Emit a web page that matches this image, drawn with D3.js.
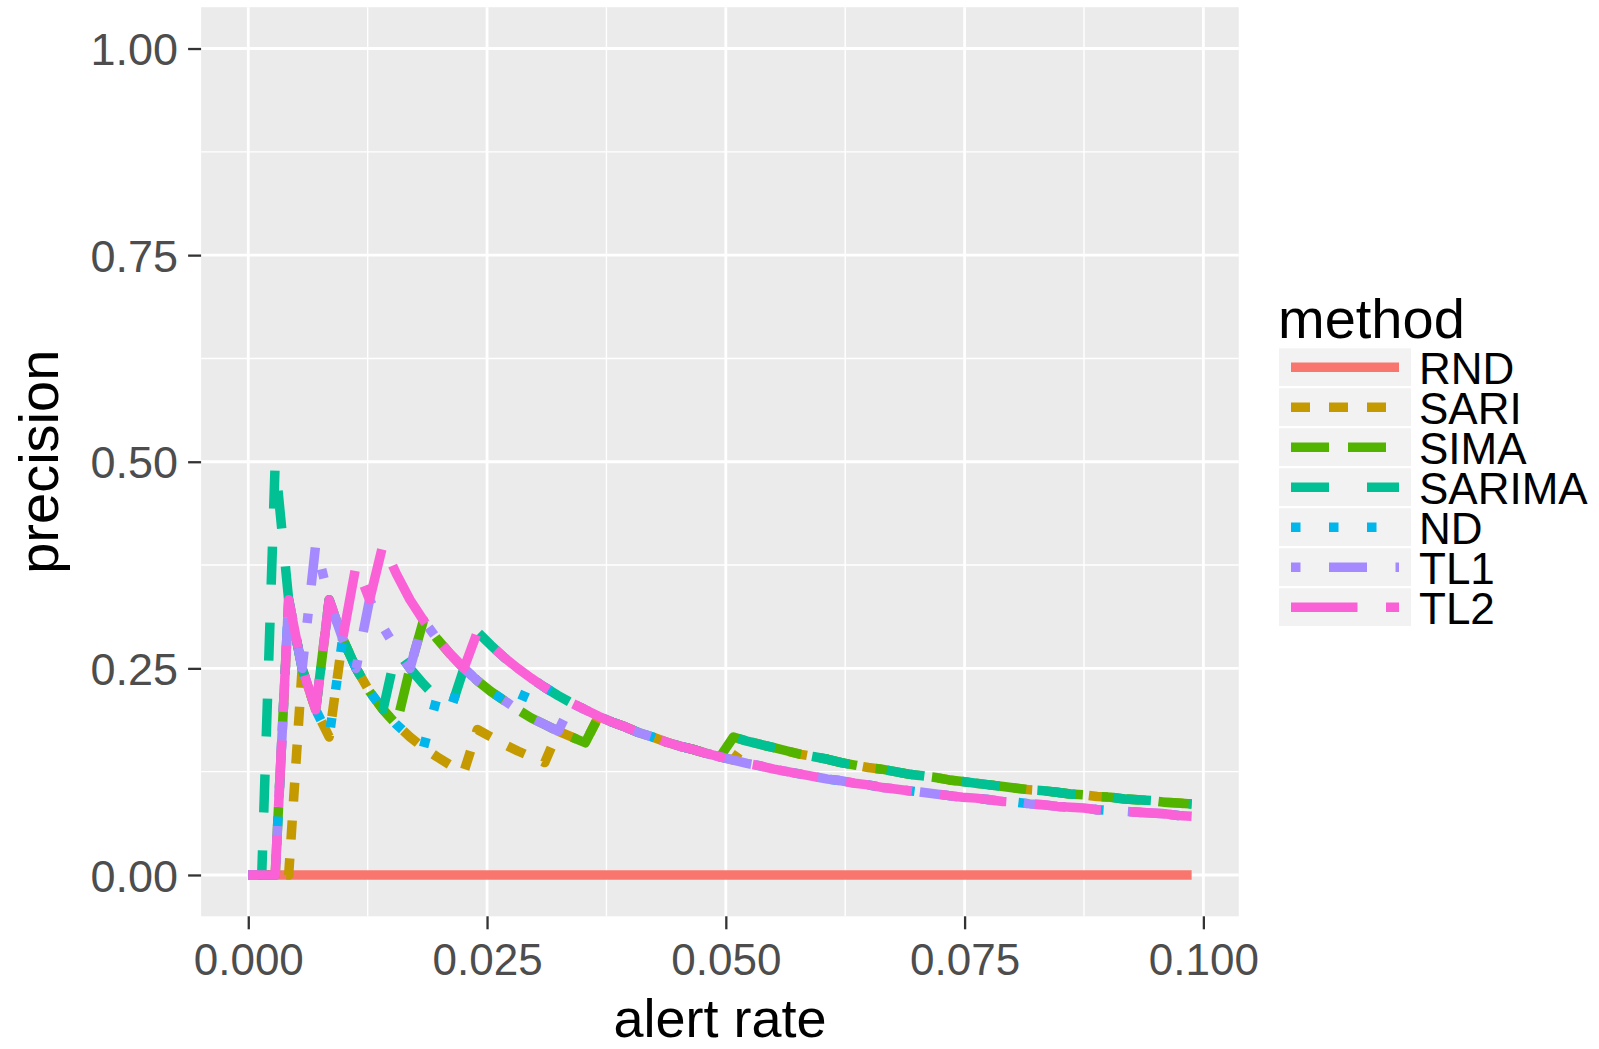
<!DOCTYPE html>
<html>
<head>
<meta charset="utf-8">
<script src="https://cdn.jsdelivr.net/npm/d3@7"></script>
<style>
  html, body { margin: 0; padding: 0; background: #fff; }
  svg { display: block; font-family: "Liberation Sans", Arial, sans-serif; }
</style>
</head>
<body>
<svg id="chart" width="1599" height="1049"></svg>
<script>
// Alert rate at each cut-off (top-n alerts), n = 0..70
const alertRate = [
  0, 0.00141, 0.00282, 0.00423, 0.00564, 0.00706, 0.00847, 0.00988, 0.01129, 0.01270,
  0.01411, 0.01552, 0.01693, 0.01834, 0.01975, 0.02117, 0.02258, 0.02399, 0.02540, 0.02681,
  0.02822, 0.02963, 0.03104, 0.03245, 0.03386, 0.03528, 0.03669, 0.03810, 0.03951, 0.04092,
  0.04233, 0.04374, 0.04515, 0.04656, 0.04797, 0.04939, 0.05080, 0.05221, 0.05362, 0.05503,
  0.05644, 0.05785, 0.05926, 0.06067, 0.06208, 0.06350, 0.06491, 0.06632, 0.06773, 0.06914,
  0.07055, 0.07196, 0.07337, 0.07478, 0.07619, 0.07761, 0.07902, 0.08043, 0.08184, 0.08325,
  0.08466, 0.08607, 0.08748, 0.08889, 0.09030, 0.09172, 0.09313, 0.09454, 0.09595, 0.09736,
  0.09877
];

// Precision of each method at the same cut-offs
const precRND = [
  0, 0, 0, 0, 0, 0, 0, 0, 0, 0,
  0, 0, 0, 0, 0, 0, 0, 0, 0, 0,
  0, 0, 0, 0, 0, 0, 0, 0, 0, 0,
  0, 0, 0, 0, 0, 0, 0, 0, 0, 0,
  0, 0, 0, 0, 0, 0, 0, 0, 0, 0,
  0, 0, 0, 0, 0, 0, 0, 0, 0, 0,
  0, 0, 0, 0, 0, 0, 0, 0, 0, 0,
  0
];
const precSARI = [
  0, 0, 0, 0, 0.250, 0.200, 0.167, 0.286, 0.250, 0.222,
  0.200, 0.182, 0.167, 0.154, 0.143, 0.133, 0.125, 0.176, 0.167, 0.158,
  0.150, 0.143, 0.136, 0.174, 0.167, 0.160, 0.192, 0.185, 0.179, 0.172,
  0.167, 0.161, 0.156, 0.152, 0.147, 0.143, 0.139, 0.162, 0.158, 0.154,
  0.150, 0.146, 0.143, 0.140, 0.136, 0.133, 0.130, 0.128, 0.125, 0.122,
  0.120, 0.118, 0.115, 0.113, 0.111, 0.109, 0.107, 0.105, 0.103, 0.102,
  0.100, 0.098, 0.097, 0.095, 0.094, 0.092, 0.091, 0.090, 0.088, 0.087,
  0.086
];
const precSIMA = [
  0, 0, 0, 0.333, 0.250, 0.200, 0.333, 0.286, 0.250, 0.222,
  0.200, 0.182, 0.250, 0.308, 0.286, 0.267, 0.250, 0.235, 0.222, 0.211,
  0.200, 0.190, 0.182, 0.174, 0.167, 0.160, 0.192, 0.185, 0.179, 0.172,
  0.167, 0.161, 0.156, 0.152, 0.147, 0.143, 0.167, 0.162, 0.158, 0.154,
  0.150, 0.146, 0.143, 0.140, 0.136, 0.133, 0.130, 0.128, 0.125, 0.122,
  0.120, 0.118, 0.115, 0.113, 0.111, 0.109, 0.107, 0.105, 0.103, 0.102,
  0.100, 0.098, 0.097, 0.095, 0.094, 0.092, 0.091, 0.090, 0.088, 0.087,
  0.086
];
const precSARIMA = [
  0, 0, 0.500, 0.333, 0.250, 0.200, 0.333, 0.286, 0.250, 0.222,
  0.200, 0.273, 0.250, 0.231, 0.214, 0.200, 0.250, 0.294, 0.278, 0.263,
  0.250, 0.238, 0.227, 0.217, 0.208, 0.200, 0.192, 0.185, 0.179, 0.172,
  0.167, 0.161, 0.156, 0.152, 0.147, 0.143, 0.167, 0.162, 0.158, 0.154,
  0.150, 0.146, 0.143, 0.140, 0.136, 0.133, 0.130, 0.128, 0.125, 0.122,
  0.120, 0.118, 0.115, 0.113, 0.111, 0.109, 0.107, 0.105, 0.103, 0.102,
  0.100, 0.098, 0.097, 0.095, 0.094, 0.092, 0.091, 0.090, 0.088, 0.087,
  0.086
];
const precND = [
  0, 0, 0, 0.333, 0.250, 0.200, 0.167, 0.286, 0.250, 0.222,
  0.200, 0.182, 0.167, 0.154, 0.214, 0.200, 0.250, 0.235, 0.222, 0.211,
  0.200, 0.238, 0.227, 0.217, 0.208, 0.200, 0.192, 0.185, 0.179, 0.172,
  0.167, 0.161, 0.156, 0.152, 0.147, 0.143, 0.139, 0.135, 0.132, 0.128,
  0.125, 0.122, 0.119, 0.116, 0.114, 0.111, 0.109, 0.106, 0.104, 0.102,
  0.100, 0.098, 0.096, 0.094, 0.093, 0.091, 0.089, 0.088, 0.086, 0.085,
  0.083, 0.082, 0.081, 0.079, 0.078, 0.077, 0.076, 0.075, 0.074, 0.072,
  0.071
];
const precTL1 = [
  0, 0, 0, 0.333, 0.250, 0.400, 0.333, 0.286, 0.250, 0.333,
  0.300, 0.273, 0.250, 0.308, 0.286, 0.267, 0.250, 0.235, 0.222, 0.211,
  0.200, 0.190, 0.182, 0.174, 0.208, 0.200, 0.192, 0.185, 0.179, 0.172,
  0.167, 0.161, 0.156, 0.152, 0.147, 0.143, 0.139, 0.135, 0.132, 0.128,
  0.125, 0.122, 0.119, 0.116, 0.114, 0.111, 0.109, 0.106, 0.104, 0.102,
  0.100, 0.098, 0.096, 0.094, 0.093, 0.091, 0.089, 0.088, 0.086, 0.085,
  0.083, 0.082, 0.081, 0.079, 0.078, 0.077, 0.076, 0.075, 0.074, 0.072,
  0.071
];
const precTL2 = [
  0, 0, 0, 0.333, 0.250, 0.200, 0.333, 0.286, 0.375, 0.333,
  0.400, 0.364, 0.333, 0.308, 0.286, 0.267, 0.250, 0.294, 0.278, 0.263,
  0.250, 0.238, 0.227, 0.217, 0.208, 0.200, 0.192, 0.185, 0.179, 0.172,
  0.167, 0.161, 0.156, 0.152, 0.147, 0.143, 0.139, 0.135, 0.132, 0.128,
  0.125, 0.122, 0.119, 0.116, 0.114, 0.111, 0.109, 0.106, 0.104, 0.102,
  0.100, 0.098, 0.096, 0.094, 0.093, 0.091, 0.089, 0.088, 0.086, 0.085,
  0.083, 0.082, 0.081, 0.079, 0.078, 0.077, 0.076, 0.075, 0.074, 0.072,
  0.071
];

const methods = ["RND", "SARI", "SIMA", "SARIMA", "ND", "TL1", "TL2"];
const methodValues = [precRND, precSARI, precSIMA, precSARIMA, precND, precTL1, precTL2];
const methodColors = ["#F8766D", "#C49A00", "#53B400", "#00C094", "#00B6EB", "#A58AFF", "#FB61D7"];
// R line types: solid, 22, 42, 44, 13, 1343, 73
const methodDash = [[], [2, 2], [4, 2], [4, 4], [1, 3], [1, 3, 4, 3], [7, 3]];

const xTicks = [0, 0.025, 0.05, 0.075, 0.1];
const xMinor = [0.0125, 0.0375, 0.0625, 0.0875];
const yTicks = [0, 0.25, 0.5, 0.75, 1];
const yMinor = [0.125, 0.375, 0.625, 0.875];

// ---- layout ----
const panel = { left: 201.1, right: 1238.8, top: 7.2, bottom: 916.3 };
const lineW = 9.5;
const dashUnit = 9.5;

const svg = d3.select("#chart");

const xMax = d3.max(alertRate), xMin = d3.min(alertRate);
const xPad = (xMax - xMin) * 0.05;
const x = d3.scaleLinear()
  .domain([xMin - xPad, xMax + xPad])
  .range([panel.left, panel.right]);
const y = d3.scaleLinear()
  .domain([-0.05, 1.05])
  .range([panel.bottom, panel.top]);

// panel background
svg.append("rect")
  .attr("x", panel.left).attr("y", panel.top)
  .attr("width", panel.right - panel.left)
  .attr("height", panel.bottom - panel.top)
  .attr("fill", "#EBEBEB");

const grid = svg.append("g").attr("stroke", "#FFFFFF").attr("fill", "none");
// minor grid
grid.selectAll("line.xmin").data(xMinor).join("line")
  .attr("x1", d => x(d)).attr("x2", d => x(d))
  .attr("y1", panel.top).attr("y2", panel.bottom)
  .attr("stroke-width", 1.4);
grid.selectAll("line.ymin").data(yMinor).join("line")
  .attr("y1", d => y(d)).attr("y2", d => y(d))
  .attr("x1", panel.left).attr("x2", panel.right)
  .attr("stroke-width", 1.4);
// major grid
grid.selectAll("line.xmaj").data(xTicks).join("line")
  .attr("x1", d => x(d)).attr("x2", d => x(d))
  .attr("y1", panel.top).attr("y2", panel.bottom)
  .attr("stroke-width", 2.8);
grid.selectAll("line.ymaj").data(yTicks).join("line")
  .attr("y1", d => y(d)).attr("y2", d => y(d))
  .attr("x1", panel.left).attr("x2", panel.right)
  .attr("stroke-width", 2.8);

// method curves
const line = d3.line()
  .x(d => x(d[0]))
  .y(d => y(d[1]));

const curves = svg.append("g").attr("fill", "none");
methods.forEach((m, i) => {
  const pts = alertRate.map((a, j) => [a, methodValues[i][j]]);
  curves.append("path")
    .datum(pts)
    .attr("d", line)
    .attr("stroke", methodColors[i])
    .attr("stroke-width", lineW)
    .attr("stroke-linecap", "butt")
    .attr("stroke-linejoin", "round")
    .attr("stroke-dasharray", methodDash[i].length ? methodDash[i].map(v => v * dashUnit).join(" ") : null);
});

// axes
const xAxis = d3.axisBottom(x)
  .tickValues(xTicks)
  .tickFormat(d3.format(".3f"))
  .tickSize(13)
  .tickPadding(14.5);
const gx = svg.append("g")
  .attr("transform", `translate(0,${panel.bottom})`)
  .call(xAxis);
gx.select(".domain").remove();
gx.selectAll(".tick line").attr("stroke", "#333333").attr("stroke-width", 2.3);
gx.selectAll(".tick text")
  .attr("fill", "#4D4D4D")
  .style("font-size", "44px")
  .style("font-family", "'Liberation Sans', Arial, sans-serif");

const yAxis = d3.axisLeft(y)
  .tickValues(yTicks)
  .tickFormat(d3.format(".2f"))
  .tickSize(13)
  .tickPadding(10);
const gy = svg.append("g")
  .attr("transform", `translate(${panel.left},0)`)
  .call(yAxis);
gy.select(".domain").remove();
gy.selectAll(".tick line").attr("stroke", "#333333").attr("stroke-width", 2.3);
gy.selectAll(".tick text")
  .attr("fill", "#4D4D4D")
  .attr("dy", "0.36em")
  .style("font-size", "45px")
  .style("font-family", "'Liberation Sans', Arial, sans-serif");

// axis titles
svg.append("text")
  .attr("x", (panel.left + panel.right) / 2)
  .attr("y", 1037)
  .attr("text-anchor", "middle")
  .attr("fill", "#000")
  .style("font-size", "54px")
  .text("alert rate");

svg.append("text")
  .attr("transform", `translate(57.5,${(panel.top + panel.bottom) / 2}) rotate(-90)`)
  .attr("text-anchor", "middle")
  .attr("fill", "#000")
  .style("font-size", "56px")
  .text("precision");

// legend
const legend = svg.append("g");
legend.append("text")
  .attr("x", 1278)
  .attr("y", 337.5)
  .attr("fill", "#000")
  .style("font-size", "56px")
  .text("method");

const keyTop = 348.3, keyStep = 40, keyH = 37.7;
methods.forEach((m, i) => {
  const ky = keyTop + i * keyStep;
  legend.append("rect")
    .attr("x", 1279).attr("y", ky)
    .attr("width", 132).attr("height", keyH)
    .attr("fill", "#F2F2F2");
  legend.append("line")
    .attr("x1", 1291).attr("x2", 1399)
    .attr("y1", ky + keyH / 2).attr("y2", ky + keyH / 2)
    .attr("stroke", methodColors[i])
    .attr("stroke-width", lineW)
    .attr("stroke-linecap", "butt")
    .attr("stroke-dasharray", methodDash[i].length ? methodDash[i].map(v => v * dashUnit).join(" ") : null);
  legend.append("text")
    .attr("x", 1419)
    .attr("y", ky + 35.7)
    .attr("fill", "#000")
    .style("font-size", "44px")
    .text(m);
});
</script>
</body>
</html>
